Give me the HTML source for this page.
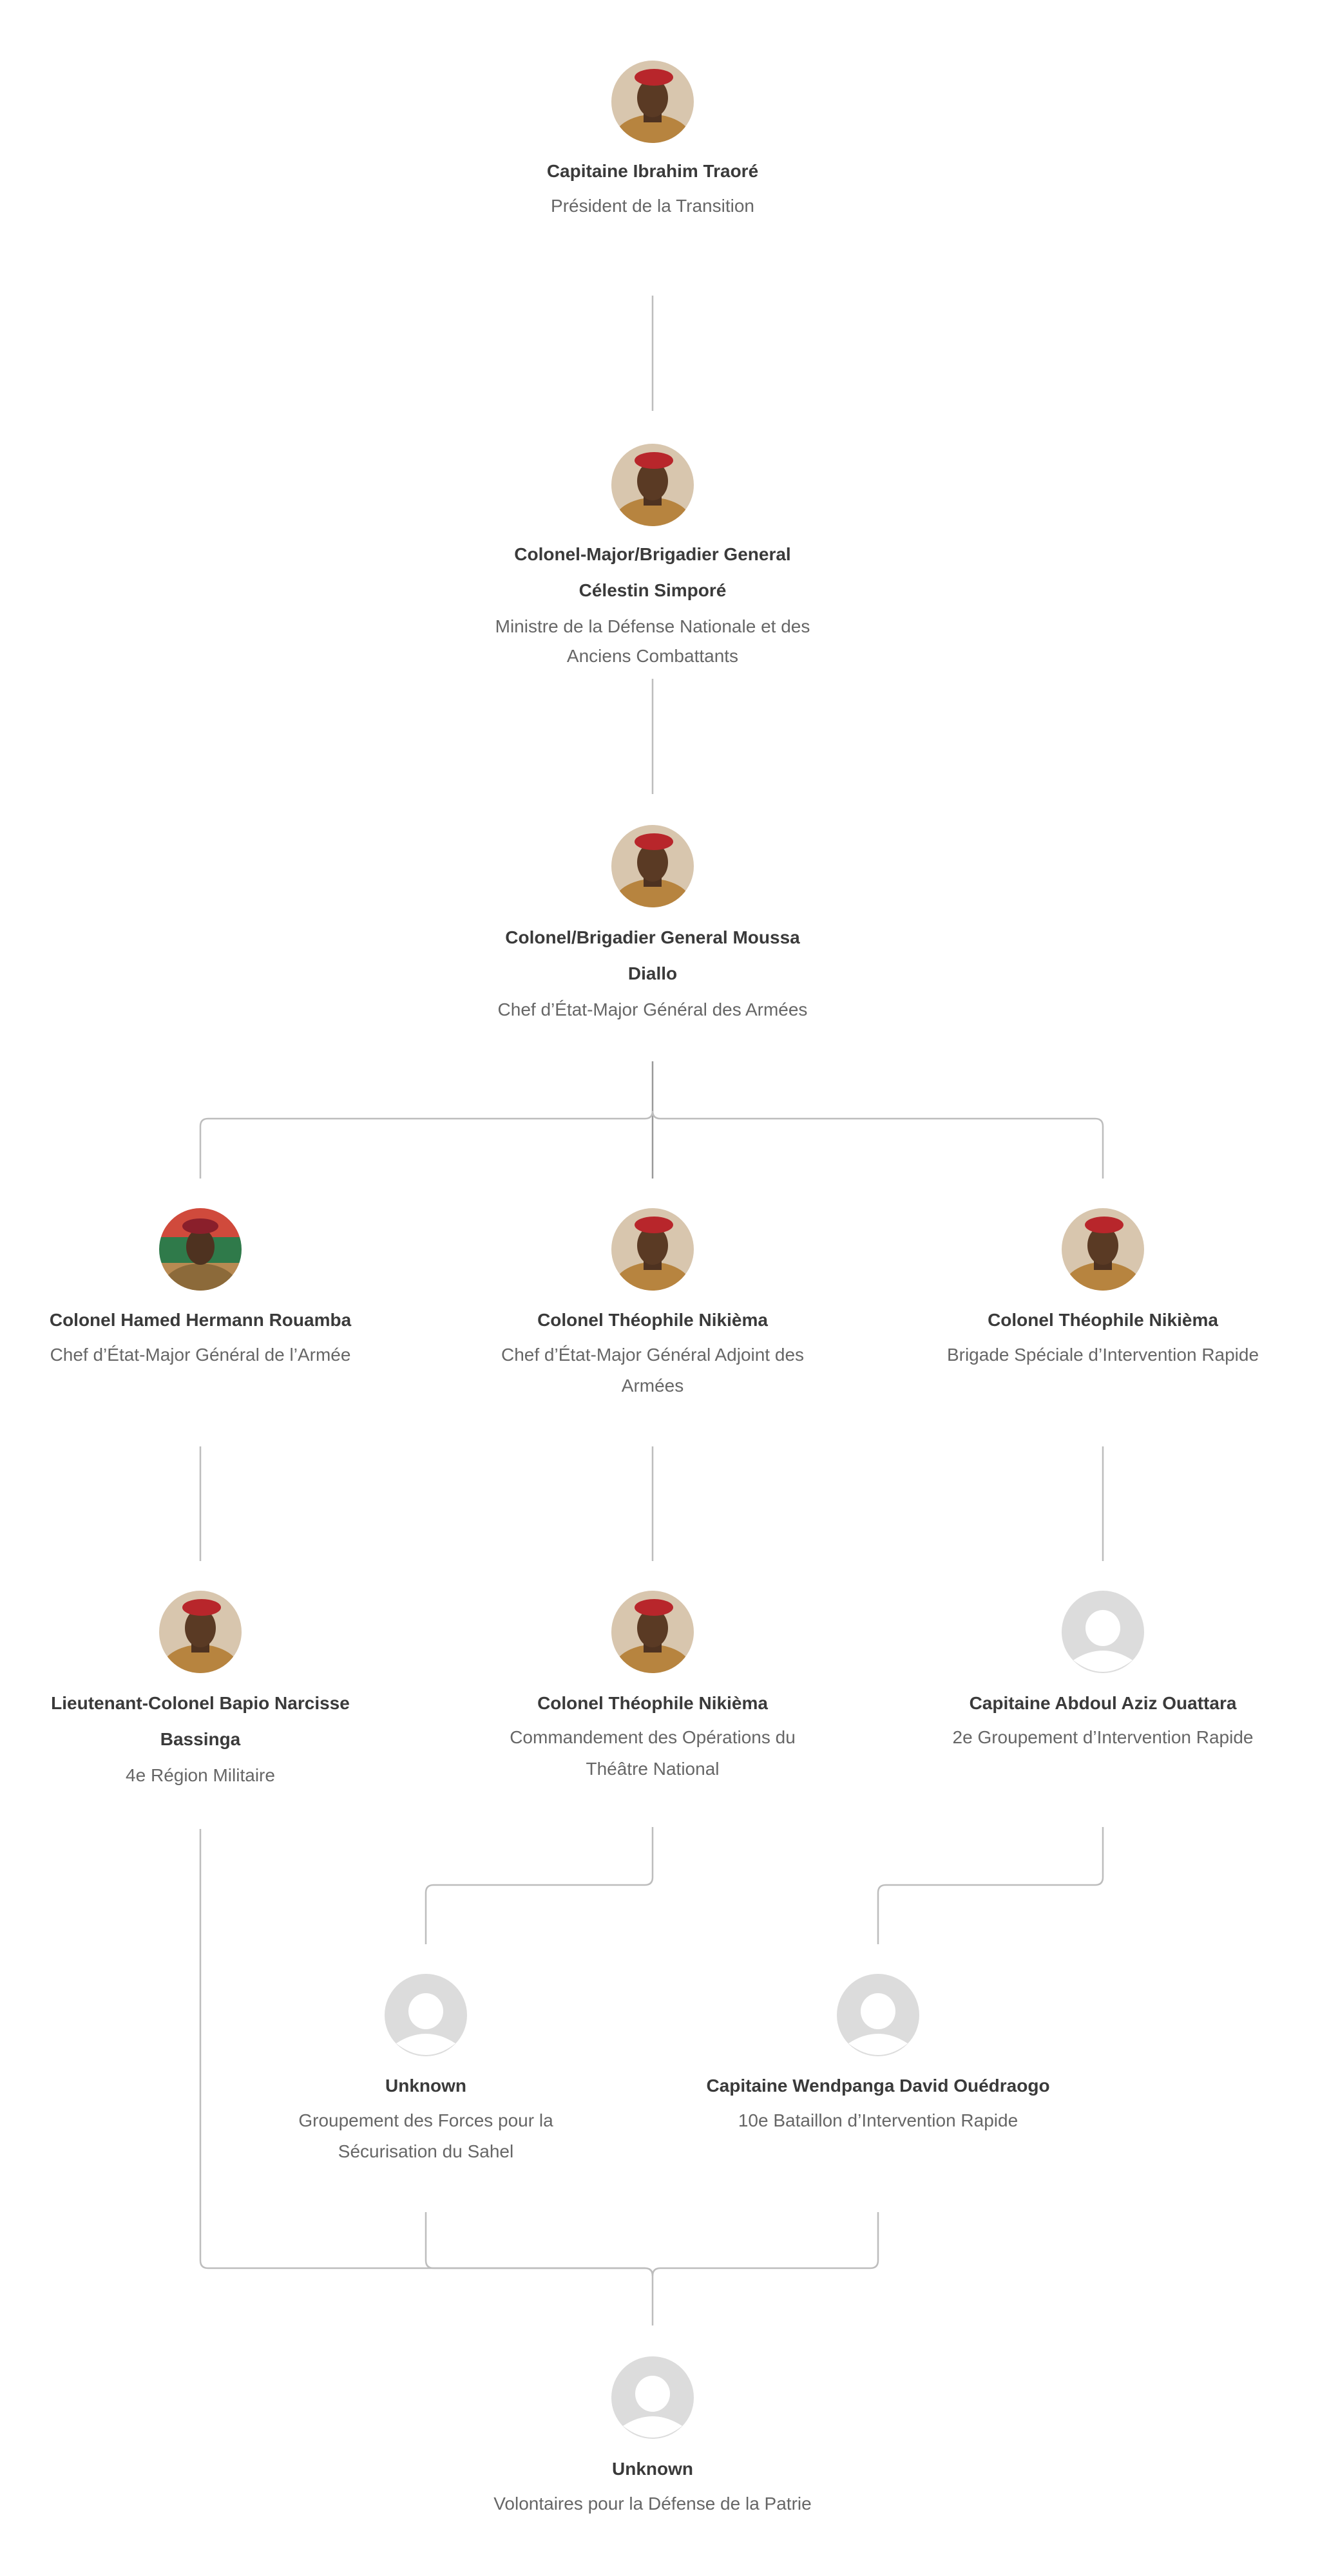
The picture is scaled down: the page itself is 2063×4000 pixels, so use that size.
<!DOCTYPE html>
<html><head><meta charset="utf-8"><style>
html,body{margin:0;padding:0;background:#fff;}
svg{display:block;}
.n{font-family:"Liberation Sans",sans-serif;font-weight:bold;font-size:28px;fill:#3a3a3a;}
.t{font-family:"Liberation Sans",sans-serif;font-size:28px;fill:#666;}
.l{fill:none;stroke:#bdbdbd;stroke-width:2.5;}
</style></head><body>
<svg width="2063" height="4000" viewBox="0 0 2063 4000" xmlns="http://www.w3.org/2000/svg">
<defs>
<symbol id="ph" viewBox="-64 -64 128 128">
<circle r="64" fill="#dcdcdc"/>
<ellipse cx="0" cy="-6" rx="27" ry="28" fill="#fff"/>
<path d="M-46 44 Q0 14 46 44 Q0 80 -46 44Z" fill="#fff"/>
</symbol>
<symbol id="pp" viewBox="-64 -64 128 128">
<clipPath id="cc"><circle r="64"/></clipPath>
<g clip-path="url(#cc)">
<rect x="-64" y="-64" width="128" height="128" fill="#d8c6ae"/>
<ellipse cx="0" cy="62" rx="62" ry="42" fill="#b7843f"/>
<rect x="-14" y="10" width="28" height="22" fill="#4e3220"/>
<ellipse cx="0" cy="-6" rx="24" ry="30" fill="#5a3a24"/>
<ellipse cx="2" cy="-38" rx="30" ry="13" fill="#b8262b"/>
</g>
</symbol>
<symbol id="pf" viewBox="-64 -64 128 128">
<clipPath id="cf"><circle r="64"/></clipPath>
<g clip-path="url(#cf)">
<rect x="-64" y="-64" width="128" height="45" fill="#d04a3c"/>
<rect x="-64" y="-19" width="128" height="40" fill="#2f7a4a"/>
<rect x="-64" y="21" width="128" height="43" fill="#b88a52"/>
<ellipse cx="0" cy="62" rx="60" ry="40" fill="#8c6a3a"/>
<ellipse cx="0" cy="-4" rx="22" ry="28" fill="#4e3220"/>
<ellipse cx="0" cy="-36" rx="28" ry="12" fill="#8a1f2b"/>
</g>
</symbol>
</defs>

<!-- connectors -->
<path class="l" d="M1013 459V638"/>
<path class="l" d="M1013 1054V1233"/>
<path class="l" d="M1013 1648V1830" style="stroke:#999"/>
<path class="l" d="M311 1830V1749Q311 1737 323 1737H1001Q1013 1737 1013 1725Q1013 1737 1025 1737H1700Q1712 1737 1712 1749V1830"/>
<path class="l" d="M311 2246V2424"/>
<path class="l" d="M1013 2246V2424"/>
<path class="l" d="M1712 2246V2424"/>
<path class="l" d="M1013 2837V2915Q1013 2927 1001 2927H673Q661 2927 661 2939V3019"/>
<path class="l" d="M1712 2837V2915Q1712 2927 1700 2927H1375Q1363 2927 1363 2939V3019"/>
<path class="l" d="M311 2840V3510Q311 3522 323 3522H1001Q1013 3522 1013 3534V3611"/>
<path class="l" d="M661 3435V3510Q661 3522 673 3522H1001Q1013 3522 1013 3534Q1013 3522 1025 3522H1351Q1363 3522 1363 3510V3435"/>

<!-- avatars -->
<use href="#pp" x="949" y="94" width="128" height="128"/>
<use href="#pp" x="949" y="689" width="128" height="128"/>
<use href="#pp" x="949" y="1281" width="128" height="128"/>
<use href="#pf" x="247" y="1876" width="128" height="128"/>
<use href="#pp" x="949" y="1876" width="128" height="128"/>
<use href="#pp" x="1648" y="1876" width="128" height="128"/>
<use href="#pp" x="247" y="2470" width="128" height="128"/>
<use href="#pp" x="949" y="2470" width="128" height="128"/>
<use href="#ph" x="1648" y="2470" width="128" height="128"/>
<use href="#ph" x="597" y="3065" width="128" height="128"/>
<use href="#ph" x="1299" y="3065" width="128" height="128"/>
<use href="#ph" x="949" y="3659" width="128" height="128"/>

<!-- labels -->
<g text-anchor="middle">
<text class="n" x="1013" y="275">Capitaine Ibrahim Traoré</text>
<text class="t" x="1013" y="329">Président de la Transition</text>

<text class="n" x="1013" y="870">Colonel-Major/Brigadier General</text>
<text class="n" x="1013" y="926">Célestin Simporé</text>
<text class="t" x="1013" y="982">Ministre de la Défense Nationale et des</text>
<text class="t" x="1013" y="1028">Anciens Combattants</text>

<text class="n" x="1013" y="1465">Colonel/Brigadier General Moussa</text>
<text class="n" x="1013" y="1521">Diallo</text>
<text class="t" x="1013" y="1577">Chef d’État-Major Général des Armées</text>

<text class="n" x="311" y="2059">Colonel Hamed Hermann Rouamba</text>
<text class="t" x="311" y="2113">Chef d’État-Major Général de l’Armée</text>
<text class="n" x="1013" y="2059">Colonel Théophile Nikièma</text>
<text class="t" x="1013" y="2113">Chef d’État-Major Général Adjoint des</text>
<text class="t" x="1013" y="2161">Armées</text>
<text class="n" x="1712" y="2059">Colonel Théophile Nikièma</text>
<text class="t" x="1712" y="2113">Brigade Spéciale d’Intervention Rapide</text>

<text class="n" x="311" y="2654">Lieutenant-Colonel Bapio Narcisse</text>
<text class="n" x="311" y="2710">Bassinga</text>
<text class="t" x="311" y="2766">4e Région Militaire</text>
<text class="n" x="1013" y="2654">Colonel Théophile Nikièma</text>
<text class="t" x="1013" y="2707">Commandement des Opérations du</text>
<text class="t" x="1013" y="2756">Théâtre National</text>
<text class="n" x="1712" y="2654">Capitaine Abdoul Aziz Ouattara</text>
<text class="t" x="1712" y="2707">2e Groupement d’Intervention Rapide</text>

<text class="n" x="661" y="3248">Unknown</text>
<text class="t" x="661" y="3302">Groupement des Forces pour la</text>
<text class="t" x="661" y="3350">Sécurisation du Sahel</text>
<text class="n" x="1363" y="3248">Capitaine Wendpanga David Ouédraogo</text>
<text class="t" x="1363" y="3302">10e Bataillon d’Intervention Rapide</text>

<text class="n" x="1013" y="3843">Unknown</text>
<text class="t" x="1013" y="3897">Volontaires pour la Défense de la Patrie</text>
</g>
</svg>
</body></html>
